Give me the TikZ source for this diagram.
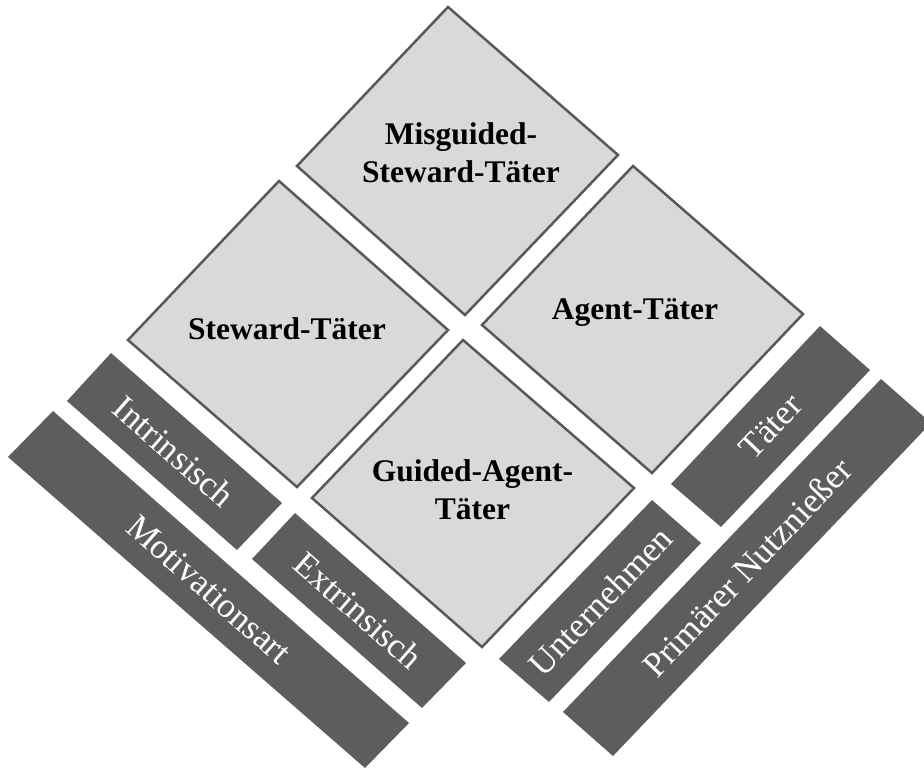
\documentclass[tikz,border=0pt]{standalone}
\usepackage{fontspec}
\setmainfont{Liberation Serif}
\definecolor{cellfill}{RGB}{217,217,217}
\definecolor{celledge}{RGB}{89,89,89}
\definecolor{barfill}{RGB}{93,93,93}
\begin{document}
\begin{tikzpicture}[x=1pt,y=-1pt,
  cell/.style={fill=cellfill,draw=celledge,line width=2.5pt,line join=miter},
  bar/.style={fill=barfill},
  celltext/.style={font=\fontsize{31.5}{38}\selectfont\bfseries,align=center,text=black,inner sep=0pt},
  bartext/.style={font=\fontsize{35}{40}\selectfont,text=white,inner sep=0pt}]
\clip (0,0) rectangle (924,770);
\fill[white] (0,0) rectangle (924,770);
% cells
\draw[cell] (448,7) -- (618,155) -- (465,315) -- (297,166) -- cycle;
\draw[cell] (279,181) -- (448,330) -- (297,487) -- (128,340) -- cycle;
\draw[cell] (633,166) -- (803,314) -- (652,473) -- (482,325) -- cycle;
\draw[cell] (463,340) -- (634,488) -- (482,647) -- (312,498) -- cycle;
% bars
\fill[bar] (111,353) -- (282,503) -- (237,550) -- (67,401) -- cycle;
\fill[bar] (53,411) -- (409,723) -- (365,768) -- (8,457) -- cycle;
\fill[bar] (295,513) -- (466,663) -- (422,708) -- (252,559) -- cycle;
\fill[bar] (820,326) -- (870,370) -- (721,527) -- (671,484) -- cycle;
\fill[bar] (881,379) -- (931,423) -- (613,756) -- (563,712) -- cycle;
\fill[bar] (652,500) -- (701,543) -- (549,702) -- (499,659) -- cycle;
% cell labels
\node[celltext] (misguided) at (461,153) {Misguided-\\Steward-Täter};
\node[celltext] (steward) at (287,329) {Steward-Täter};
\node[celltext] (agent) at (635,312.7) {Agent-Täter};
\node[celltext] (guided) at (472.5,490) {Guided-Agent-\\Täter};
% bar labels
\node[bartext,rotate=-41.3] (intr) at (174,451.5) {Intrinsisch};
\node[bartext,rotate=-41.3] (motiv) at (209,589.5) {Motivationsart};
\node[bartext,rotate=-41.3] (extr) at (358.5,610.5) {Extrinsisch};
\node[bartext,rotate=46.5] (taeter) at (770.5,426.5) {Täter};
\node[bartext,rotate=46.5] (nutz) at (747,567.5) {Primärer Nutznießer};
\node[bartext,rotate=46.3] (untern) at (600.5,601) {Unternehmen};
\end{tikzpicture}
\end{document}
